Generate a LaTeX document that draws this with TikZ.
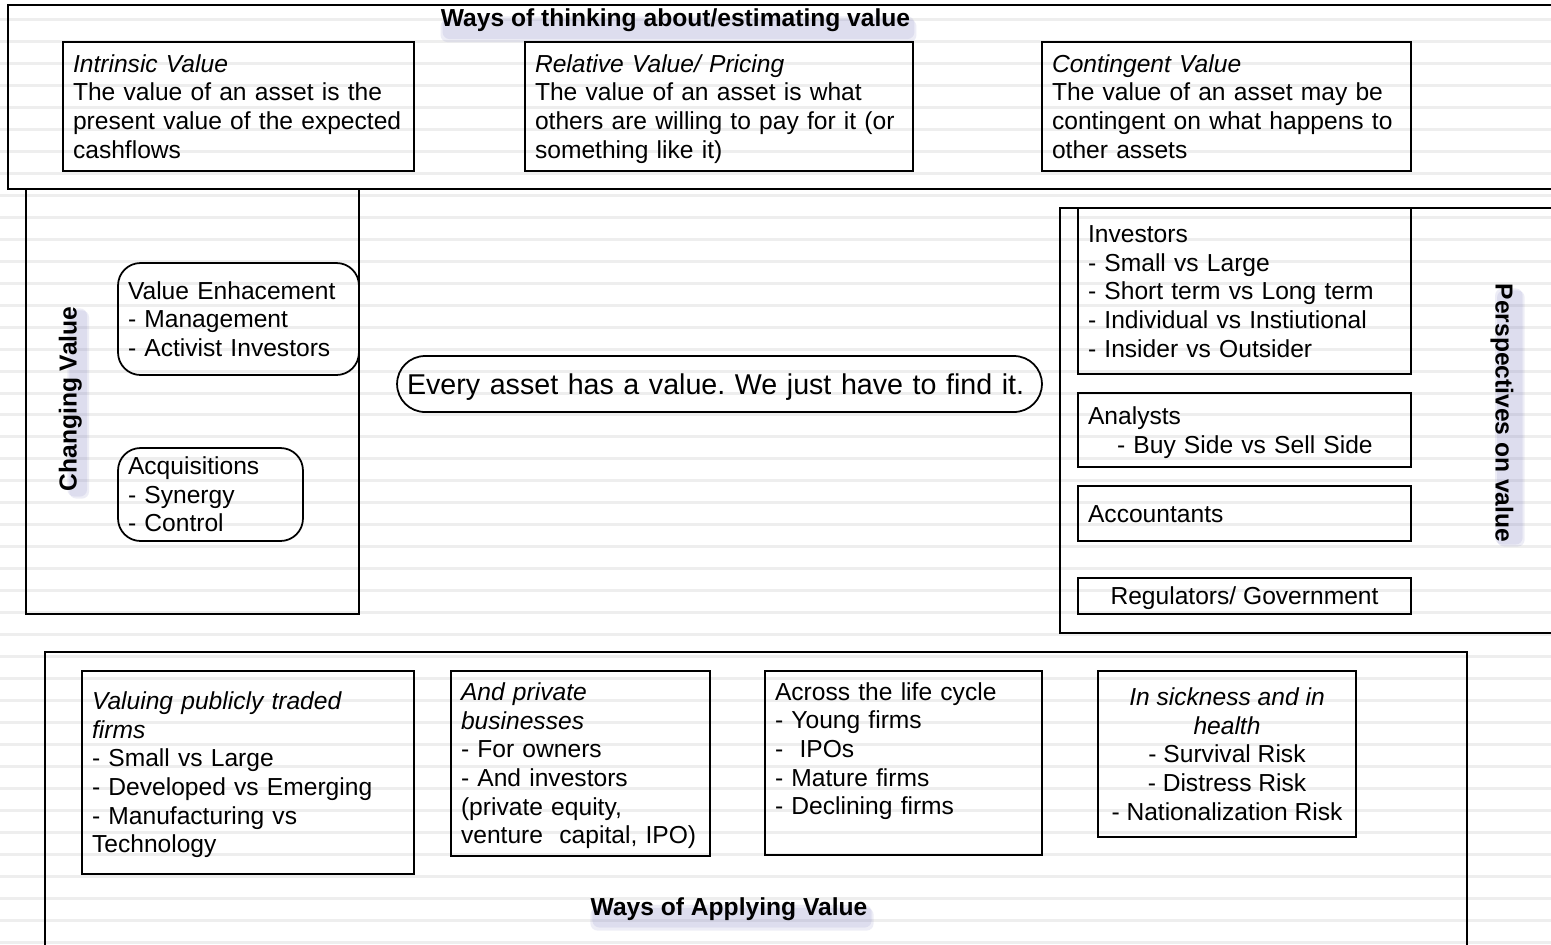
\documentclass[tikz,border=0pt]{standalone}
\usepackage{fontspec}
\setmainfont{Liberation Sans}
\usepackage{tikz}
\usepackage{xcolor}
\usetikzlibrary{positioning}

\definecolor{stripegray}{RGB}{238,238,238}
\definecolor{ttlshade}{RGB}{100,100,180}

\pgfdeclarelayer{bg}
\pgfsetlayers{bg,main}
\frenchspacing

\begin{document}
\begin{tikzpicture}[x=0.02cm, y=-0.02cm,
    txt/.style={font=\fontsize{14}{16.3}\selectfont},
    ttl/.style={font=\fontsize{14}{16.3}\selectfont\bfseries, inner sep=0pt},
    haze/.style={fill=ttlshade, opacity=0.11, rounded corners=4pt},
    panel/.style={draw=black, line width=1.1pt},
    plainbox/.style={txt, draw=black, line width=1pt, align=left, inner xsep=0.2cm, inner ysep=0pt},
    valuebox/.style={plainbox, execute at begin node={\rule{0pt}{0.91\baselineskip}}, execute at end node=\strut},
    roundbox/.style={valuebox, rounded corners=0.45cm},
    stripe/.style={stripegray, line width=0.06cm}]

    \useasboundingbox (0,0) rectangle (1551,944);
    \clip (0,0) rectangle (1551,944);
    \begin{pgfonlayer}{bg}
        \fill[white] (0,0) rectangle (1551,944);
        \foreach \s in {0,...,42}
            \draw[stripe] (0,19.5+21.97*\s) -- (1551,19.5+21.97*\s);
    \end{pgfonlayer}

    % ways of thinking about value
    \draw[panel] (8,5) rectangle (1600,189);
    \node[ttl, anchor=base] (thinkttl) at (675.5,26.5) {Ways of thinking about/estimating value};
    \node[valuebox, minimum width=7.02cm, minimum height=2.58cm, text width=6.62cm] (intrinsic) at (238.5,106.5) {\textit{Intrinsic Value}\\The value of an asset is the\\present value of the expected\\cashflows};
    \node[valuebox, minimum width=7.76cm, minimum height=2.58cm, text width=7.36cm] (relative) at (719,106.5) {\textit{Relative Value/ Pricing}\\The value of an asset is what\\others are willing to pay for it (or\\something like it)};
    \node[valuebox, minimum width=7.38cm, minimum height=2.58cm, text width=6.98cm] (contingent) at (1226.5,106.5) {\textit{Contingent Value}\\The value of an asset may be\\contingent on what happens to\\other assets};

    % changing value
    \draw[panel] (26,189) rectangle (359,614);
    \node[ttl, anchor=base, rotate=90] (changettl) at (76.5,399) {Changing Value};
    \node[roundbox, minimum width=4.82cm, minimum height=2.24cm, text width=4.42cm] (enhance) at (238.5,319) {Value Enhacement\\- Management\\- Activist Investors};
    \node[roundbox, minimum width=3.70cm, minimum height=1.86cm, text width=3.30cm] (acquire) at (210.5,494.5) {Acquisitions\\- Synergy\\- Control};

    % centre
    \node[roundbox, rounded corners=0.56cm, font=\fontsize{16.3}{19}\selectfont, minimum width=12.9cm, minimum height=1.12cm, text width=12.5cm] (everyasset) at (719.5,384) {Every asset has a value. We just have to find it.};

    % perspectives on value
    \draw[panel] (1060,208) rectangle (1600,633);
    \node[ttl, anchor=base, rotate=-90] (perspttl) at (1495.5,413) {Perspectives on value};
    \node[valuebox, minimum width=6.66cm, minimum height=3.32cm, text width=6.26cm] (investors) at (1244.5,291) {Investors\\- Small vs Large\\- Short term vs Long term\\- Individual vs Instiutional\\- Insider vs Outsider};
    \node[valuebox, minimum width=6.66cm, minimum height=1.48cm, text width=6.26cm] (analysts) at (1244.5,430) {Analysts\\\hspace*{0.58cm}- Buy Side vs Sell Side};
    \node[valuebox, minimum width=6.66cm, minimum height=1.10cm, text width=6.26cm] (accountants) at (1244.5,513.5) {Accountants};
    \node[valuebox, align=center, minimum width=6.66cm, minimum height=0.72cm] (regulators) at (1244.5,596) {Regulators/ Government};

    % ways of applying value
    \draw[panel] (45,652) rectangle (1467,1000);
    \node[ttl, anchor=base] (applyttl) at (729,915) {Ways of Applying Value};
    \node[valuebox, minimum width=6.64cm, minimum height=4.06cm, text width=6.24cm] (publicfirms) at (248,772.5) {\textit{Valuing publicly traded}\\\textit{firms}\\- Small vs Large\\- Developed vs Emerging\\- Manufacturing vs\\Technology};
    \node[valuebox, minimum width=5.18cm, minimum height=3.70cm, text width=4.78cm] (privatefirms) at (580.5,763.5) {\textit{And private}\\\textit{businesses}\\- For owners\\- And investors\\(private equity,\\venture~ capital, IPO)};
    \node[valuebox, minimum width=5.54cm, minimum height=3.68cm, text width=5.14cm] (lifecycle) at (903.5,763) {Across the life cycle\\- Young firms\\-~ IPOs\\- Mature firms\\- Declining firms\\\strut};
    \node[plainbox, align=center, minimum width=5.16cm, minimum height=3.32cm] (sickness) at (1227,754) {\textit{In sickness and in}\\\textit{health}\\- Survival Risk\\- Distress Risk\\- Nationalization Risk};

    % soft shadows under the headings
    \begin{pgfonlayer}{bg}
        \fill[haze] ([xshift=0.04cm,yshift=-0.14cm]thinkttl.south west) rectangle ([xshift=0.08cm,yshift=-0.16cm]thinkttl.north east);
        \fill[haze] ([xshift=0.0cm,yshift=-0.2cm]thinkttl.south west) rectangle ([xshift=0.12cm,yshift=-0.22cm]thinkttl.north east);
        \fill[haze] ([xshift=0.04cm,yshift=-0.14cm]applyttl.south west) rectangle ([xshift=0.08cm,yshift=-0.16cm]applyttl.north east);
        \fill[haze] ([xshift=0.0cm,yshift=-0.2cm]applyttl.south west) rectangle ([xshift=0.12cm,yshift=-0.22cm]applyttl.north east);
        \fill[haze] ([xshift=0.1cm,yshift=-0.1cm]changettl.south west) rectangle ([xshift=0.18cm,yshift=-0.04cm]changettl.north east);
        \fill[haze] ([xshift=0.14cm,yshift=-0.14cm]changettl.south west) rectangle ([xshift=0.22cm,yshift=-0.08cm]changettl.north east);
        \fill[haze] ([xshift=0.1cm,yshift=-0.1cm]perspttl.south west) rectangle ([xshift=0.18cm,yshift=-0.04cm]perspttl.north east);
        \fill[haze] ([xshift=0.14cm,yshift=-0.14cm]perspttl.south west) rectangle ([xshift=0.22cm,yshift=-0.08cm]perspttl.north east);
    \end{pgfonlayer}
\end{tikzpicture}
\end{document}
